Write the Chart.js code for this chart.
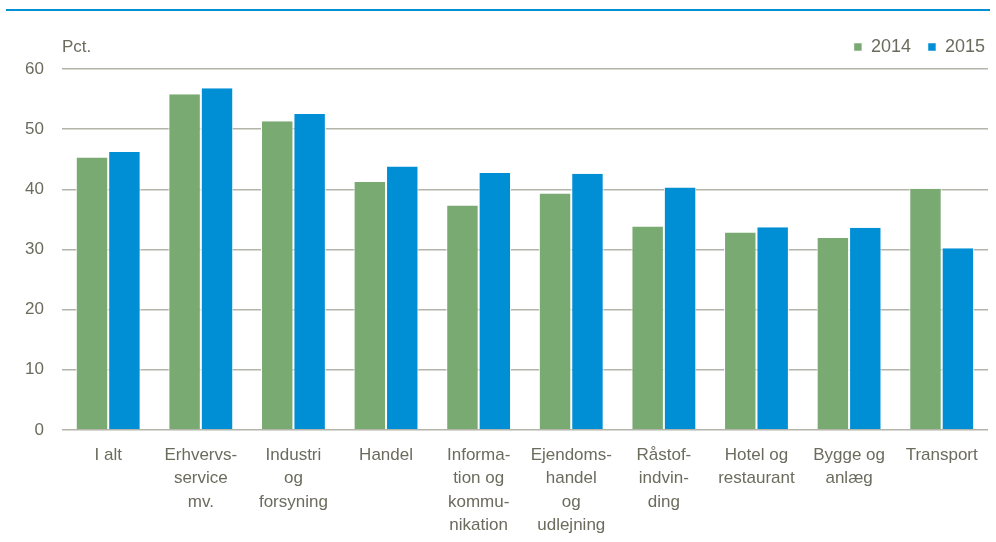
<!DOCTYPE html>
<html>
<head>
<meta charset="utf-8">
<script src="https://cdn.jsdelivr.net/npm/chart.js@4"></script>
<style>
  html, body { margin: 0; padding: 0; background: #fff; }
  #wrap { position: relative; width: 996px; height: 542px; }
  #topline { position: absolute; left: 6px; top: 9px; width: 984px; height: 2px; background: #0090d4; }
  #fordeling { position: absolute; left: 0; top: 0; }
</style>
</head>
<body>
<div id="wrap">
  <div id="topline"></div>
  <canvas id="fordeling" width="996" height="542"></canvas>
</div>
<script>
// Andel i pct. fordelt på branche
const categories = [
  "I alt",
  ["Erhvervs-", "service", "mv."],
  ["Industri", "og", "forsyning"],
  "Handel",
  ["Informa-", "tion og", "kommu-", "nikation"],
  ["Ejendoms-", "handel", "og", "udlejning"],
  ["Råstof-", "indvin-", "ding"],
  ["Hotel og", "restaurant"],
  ["Bygge og", "anlæg"],
  "Transport"
];
const values2014 = [45.3, 55.8, 51.3, 41.2, 37.3, 39.3, 33.8, 32.8, 31.9, 40.1];
const values2015 = [46.2, 56.8, 52.5, 43.8, 42.7, 42.6, 40.3, 33.7, 33.6, 30.2];
const yTicks = [0, 10, 20, 30, 40, 50, 60];

const textColor = "#6b6b5e";
const gridColor = "#b4b4aa";
const fontFamily = "'Liberation Sans', Arial, sans-serif";

// "Pct." label over the y axis, and nudge the legend to the corner
const unitLabel = {
  id: "unitLabel",
  afterLayout(chart) {
    chart.legend.right += 14;
    chart.legend.left += 14;
    chart.legend.top -= 3;
    chart.legend.bottom -= 3;
  },
  afterDraw(chart) {
    const ctx = chart.ctx;
    ctx.save();
    ctx.font = "17px " + fontFamily;
    ctx.fillStyle = textColor;
    ctx.textAlign = "left";
    ctx.textBaseline = "alphabetic";
    ctx.fillText("Pct.", chart.chartArea.left, 52);
    ctx.restore();
  }
};

const ctx = document.getElementById("fordeling").getContext("2d");
new Chart(ctx, {
  type: "bar",
  data: {
    labels: categories,
    datasets: [
      {
        label: "2014",
        data: values2014,
        backgroundColor: "#79aa71",
        borderColor: "#ffffff",
        borderWidth: { left: 1, right: 1, top: 0, bottom: 0 },
        categoryPercentage: 0.7,
        barPercentage: 1.0
      },
      {
        label: "2015",
        data: values2015,
        backgroundColor: "#008fd5",
        borderColor: "#ffffff",
        borderWidth: { left: 1, right: 1, top: 0, bottom: 0 },
        categoryPercentage: 0.7,
        barPercentage: 1.0
      }
    ]
  },
  options: {
    responsive: false,
    animation: false,
    maintainAspectRatio: false,
    layout: { padding: { left: 7, right: 8, top: 24, bottom: 6 } },
    scales: {
      y: {
        min: 0,
        max: 60,
        afterBuildTicks: (axis) => { axis.ticks = yTicks.map((v) => ({ value: v })); },
        border: { display: false },
        grid: { color: gridColor, lineWidth: 1.5, drawTicks: false },
        ticks: {
          color: textColor,
          padding: 18,
          font: { family: fontFamily, size: 17 }
        }
      },
      x: {
        afterFit: (scale) => { scale.height -= 15; },
        border: { display: false },
        grid: { display: false, drawTicks: false },
        ticks: {
          color: textColor,
          padding: 14,
          maxRotation: 0,
          autoSkip: false,
          font: { family: fontFamily, size: 17, lineHeight: 1.37 }
        }
      }
    },
    plugins: {
      legend: {
        position: "top",
        align: "end",
        labels: {
          color: textColor,
          boxWidth: 8,
          boxHeight: 8,
          padding: 17,
          font: { family: fontFamily, size: 18 }
        }
      },
      tooltip: { enabled: false }
    }
  },
  plugins: [unitLabel]
});
</script>
</body>
</html>
